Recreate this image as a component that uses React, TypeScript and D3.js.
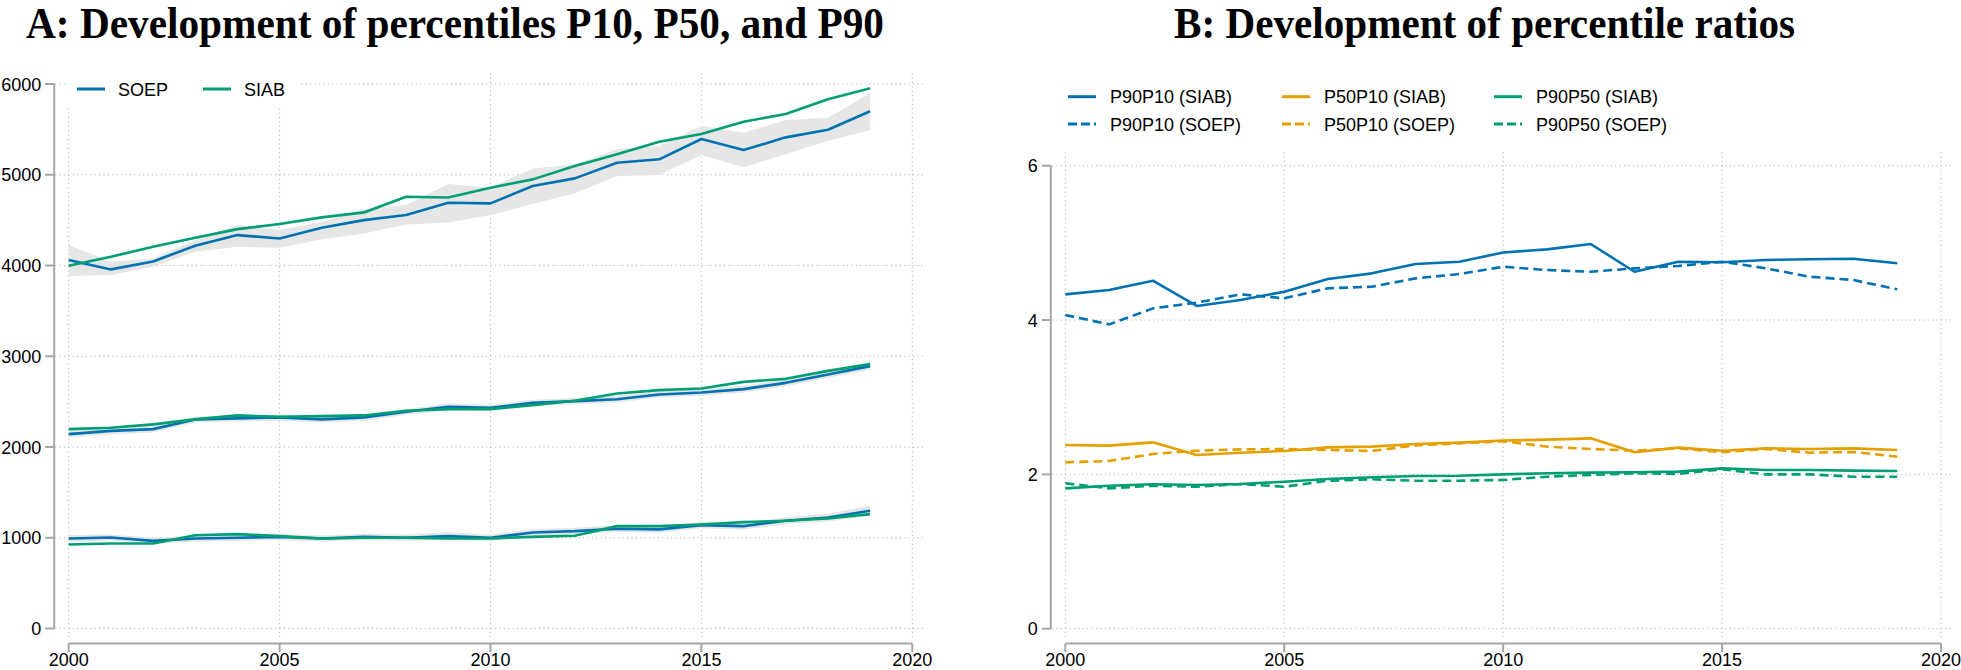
import { useEffect, useRef } from "react";
import * as d3 from "d3";

const years = d3.range(2000, 2020);

// Panel A: percentiles (euro)
const p90Soep = [4060, 3957, 4045, 4218, 4335, 4298, 4416, 4500, 4556, 4691, 4685, 4876, 4960, 5132, 5170, 5394, 5272, 5412, 5496, 5699];
const p90Siab = [3997, 4096, 4206, 4306, 4401, 4457, 4530, 4585, 4757, 4750, 4857, 4949, 5096, 5225, 5364, 5449, 5585, 5669, 5831, 5952];
const p90Hi = [4225, 4041, 4080, 4280, 4446, 4391, 4480, 4622, 4666, 4897, 4857, 5070, 5114, 5280, 5316, 5540, 5463, 5603, 5628, 5897];
const p90Lo = [3883, 3894, 3986, 4151, 4206, 4196, 4288, 4354, 4453, 4475, 4556, 4677, 4795, 4986, 4997, 5217, 5082, 5228, 5371, 5493];

const p50Soep = [2142, 2178, 2197, 2304, 2315, 2326, 2304, 2326, 2388, 2443, 2432, 2487, 2505, 2527, 2579, 2601, 2638, 2707, 2799, 2891];
const p50Siab = [2197, 2212, 2249, 2304, 2348, 2333, 2340, 2348, 2399, 2417, 2417, 2461, 2509, 2590, 2627, 2645, 2718, 2751, 2839, 2913];
const p50Hi = [2180, 2215, 2235, 2335, 2350, 2360, 2340, 2360, 2420, 2480, 2465, 2520, 2540, 2565, 2615, 2640, 2675, 2745, 2840, 2935];
const p50Lo = [2105, 2140, 2160, 2270, 2280, 2290, 2270, 2290, 2355, 2405, 2400, 2455, 2470, 2490, 2545, 2565, 2600, 2670, 2760, 2850];

const p10Soep = [992, 1003, 966, 992, 1000, 1010, 992, 1010, 1000, 1018, 1000, 1058, 1073, 1099, 1092, 1139, 1128, 1187, 1223, 1297];
const p10Siab = [926, 937, 937, 1028, 1040, 1018, 992, 1000, 1000, 992, 992, 1010, 1022, 1128, 1128, 1146, 1172, 1187, 1212, 1260];
const p10Hi = [1030, 1035, 1000, 1025, 1035, 1045, 1025, 1045, 1035, 1060, 1035, 1095, 1110, 1135, 1130, 1175, 1165, 1225, 1265, 1355];
const p10Lo = [955, 970, 935, 960, 965, 975, 960, 975, 965, 980, 965, 1020, 1035, 1065, 1055, 1105, 1090, 1150, 1180, 1245];

// Panel B: percentile ratios
const r9010Siab = [4.333, 4.389, 4.51, 4.182, 4.259, 4.367, 4.532, 4.605, 4.726, 4.756, 4.875, 4.916, 4.985, 4.626, 4.756, 4.748, 4.778, 4.787, 4.795, 4.735];
const r9010Soep = [4.065, 3.944, 4.151, 4.225, 4.333, 4.281, 4.411, 4.432, 4.54, 4.596, 4.691, 4.648, 4.626, 4.67, 4.7, 4.756, 4.67, 4.561, 4.519, 4.398];
const r5010Siab = [2.38, 2.372, 2.415, 2.251, 2.281, 2.303, 2.35, 2.359, 2.393, 2.411, 2.438, 2.45, 2.467, 2.286, 2.346, 2.307, 2.337, 2.329, 2.337, 2.316];
const r5010Soep = [2.156, 2.173, 2.264, 2.307, 2.324, 2.329, 2.316, 2.303, 2.376, 2.402, 2.43, 2.359, 2.329, 2.307, 2.337, 2.286, 2.329, 2.281, 2.29, 2.229];
const r9050Siab = [1.819, 1.853, 1.871, 1.862, 1.875, 1.905, 1.94, 1.962, 1.979, 1.983, 2.0, 2.014, 2.022, 2.027, 2.035, 2.078, 2.057, 2.057, 2.048, 2.044];
const r9050Soep = [1.884, 1.819, 1.853, 1.84, 1.875, 1.84, 1.918, 1.936, 1.918, 1.918, 1.927, 1.97, 1.992, 2.014, 2.005, 2.066, 2.0, 2.0, 1.97, 1.97];

const xTicks = [2000, 2005, 2010, 2015, 2020];
const yTicksA = [0, 1000, 2000, 3000, 4000, 5000, 6000];
const yTicksB = [0, 2, 4, 6];

const BLUE = "#0072B2";
const GREEN = "#009E73";
const ORANGE = "#E69F00";
const BAND = "#e6e6e6";
const AXIS = "#a6a6a6";
const GRID = "#b4b4b4";
const SANS = "'Liberation Sans', Arial, Helvetica, sans-serif";
const SERIF = "'Liberation Serif', 'Times New Roman', serif";

function drawFrame(svg, x, y, yTicks, gridTop, gridLeft, gridRight) {
  const g = svg.append("g");
  // dotted grid
  g.selectAll(".hgrid").data(yTicks).enter().append("line")
    .attr("x1", gridLeft).attr("x2", gridRight)
    .attr("y1", d => y(d)).attr("y2", d => y(d))
    .attr("stroke", GRID).attr("stroke-width", 1).attr("stroke-dasharray", "1.2,3.2");
  g.selectAll(".vgrid").data(xTicks).enter().append("line")
    .attr("x1", d => x(d)).attr("x2", d => x(d))
    .attr("y1", gridTop).attr("y2", 637)
    .attr("stroke", GRID).attr("stroke-width", 1).attr("stroke-dasharray", "1.2,3.2");

  // y axis
  const ax0 = x.range()[0] - 14.5;
  g.append("line").attr("x1", ax0).attr("x2", ax0)
    .attr("y1", y(yTicks[yTicks.length - 1])).attr("y2", y(0))
    .attr("stroke", AXIS).attr("stroke-width", 2);
  g.selectAll(".ytick").data(yTicks).enter().append("line")
    .attr("x1", ax0 - 9).attr("x2", ax0).attr("y1", d => y(d)).attr("y2", d => y(d))
    .attr("stroke", AXIS).attr("stroke-width", 2);
  g.selectAll(".ylab").data(yTicks).enter().append("text")
    .attr("x", ax0 - 13).attr("y", d => y(d) + 6.5)
    .attr("text-anchor", "end").attr("font-family", SANS).attr("font-size", 18)
    .text(d => d);

  // x axis
  const ay = 643.5;
  g.append("line").attr("x1", x(2000)).attr("x2", x(2020)).attr("y1", ay).attr("y2", ay)
    .attr("stroke", AXIS).attr("stroke-width", 2);
  g.selectAll(".xtick").data(xTicks).enter().append("line")
    .attr("x1", d => x(d)).attr("x2", d => x(d)).attr("y1", ay).attr("y2", ay + 8.5)
    .attr("stroke", AXIS).attr("stroke-width", 2);
  g.selectAll(".xlab").data(xTicks).enter().append("text")
    .attr("x", d => x(d)).attr("y", 666)
    .attr("text-anchor", "middle").attr("font-family", SANS).attr("font-size", 18)
    .text(d => d);
}

function drawLine(svg, x, y, vals, color, dashed) {
  const line = d3.line().x((d, i) => x(years[i])).y(d => y(d));
  svg.append("path").datum(vals).attr("d", line)
    .attr("fill", "none").attr("stroke", color).attr("stroke-width", 2.6)
    .attr("stroke-linejoin", "round")
    .attr("stroke-dasharray", dashed ? "9,5" : null);
}

function drawBand(svg, x, y, lo, hi) {
  const area = d3.area().x((d, i) => x(years[i])).y0((d, i) => y(lo[i])).y1(d => y(d));
  svg.append("path").datum(hi).attr("d", area).attr("fill", BAND);
}

export default function App() {
  const ref = useRef(null);

  useEffect(() => {
    const svg = d3.select(ref.current);
    svg.selectAll("*").remove();

    // ---------- Panel A ----------
    const xA = d3.scaleLinear().domain([2000, 2020]).range([68.7, 912.3]);
    const yA = d3.scaleLinear().domain([0, 6000]).range([628.5, 84]);

    svg.append("text").attr("x", 26).attr("y", 38)
      .attr("font-family", SERIF).attr("font-weight", "bold").attr("font-size", 44)
      .attr("textLength", 858).attr("lengthAdjust", "spacingAndGlyphs")
      .text("A: Development of percentiles P10, P50, and P90");

    drawFrame(svg, xA, yA, yTicksA, 73, 55, 924);

    drawBand(svg, xA, yA, p90Lo, p90Hi);
    drawBand(svg, xA, yA, p50Lo, p50Hi);
    drawBand(svg, xA, yA, p10Lo, p10Hi);
    drawLine(svg, xA, yA, p90Soep, BLUE, false);
    drawLine(svg, xA, yA, p90Siab, GREEN, false);
    drawLine(svg, xA, yA, p50Soep, BLUE, false);
    drawLine(svg, xA, yA, p50Siab, GREEN, false);
    drawLine(svg, xA, yA, p10Soep, BLUE, false);
    drawLine(svg, xA, yA, p10Siab, GREEN, false);

    // legend A (white box over the grid)
    const legA = svg.append("g");
    legA.append("rect").attr("x", 66).attr("y", 70).attr("width", 234).attr("height", 38).attr("fill", "#fff");
    const itemsA = [
      { label: "SOEP", color: BLUE, x: 77 },
      { label: "SIAB", color: GREEN, x: 203 },
    ];
    itemsA.forEach(it => {
      legA.append("line").attr("x1", it.x).attr("x2", it.x + 28).attr("y1", 89).attr("y2", 89)
        .attr("stroke", it.color).attr("stroke-width", 3);
      legA.append("text").attr("x", it.x + 41).attr("y", 95.5)
        .attr("font-family", SANS).attr("font-size", 18).text(it.label);
    });

    // ---------- Panel B ----------
    const xB = d3.scaleLinear().domain([2000, 2020]).range([1065.3, 1941]);
    const yB = d3.scaleLinear().domain([0, 6]).range([628.7, 165.7]);

    svg.append("text").attr("x", 1174).attr("y", 38)
      .attr("font-family", SERIF).attr("font-weight", "bold").attr("font-size", 44)
      .attr("textLength", 621).attr("lengthAdjust", "spacingAndGlyphs")
      .text("B: Development of percentile ratios");

    drawFrame(svg, xB, yB, yTicksB, 152, 1052, 1954);

    drawLine(svg, xB, yB, r9010Siab, BLUE, false);
    drawLine(svg, xB, yB, r9010Soep, BLUE, true);
    drawLine(svg, xB, yB, r5010Siab, ORANGE, false);
    drawLine(svg, xB, yB, r5010Soep, ORANGE, true);
    drawLine(svg, xB, yB, r9050Siab, GREEN, false);
    drawLine(svg, xB, yB, r9050Soep, GREEN, true);

    // legend B
    const itemsB = [
      { label: "P90P10 (SIAB)", color: BLUE, dashed: false, x: 1068, row: 0 },
      { label: "P90P10 (SOEP)", color: BLUE, dashed: true, x: 1068, row: 1 },
      { label: "P50P10 (SIAB)", color: ORANGE, dashed: false, x: 1282, row: 0 },
      { label: "P50P10 (SOEP)", color: ORANGE, dashed: true, x: 1282, row: 1 },
      { label: "P90P50 (SIAB)", color: GREEN, dashed: false, x: 1494, row: 0 },
      { label: "P90P50 (SOEP)", color: GREEN, dashed: true, x: 1494, row: 1 },
    ];
    const legB = svg.append("g");
    itemsB.forEach(it => {
      const cy = 96.7 + it.row * 27.3;
      legB.append("line").attr("x1", it.x).attr("x2", it.x + 28).attr("y1", cy).attr("y2", cy)
        .attr("stroke", it.color).attr("stroke-width", 3)
        .attr("stroke-dasharray", it.dashed ? "9,4" : null);
      legB.append("text").attr("x", it.x + 42).attr("y", cy + 6.5)
        .attr("font-family", SANS).attr("font-size", 18).text(it.label);
    });
  }, []);

  return (
    <svg ref={ref} width={1961} height={670}
      style={{ position: "absolute", left: 0, top: 0, background: "#fff" }} />
  );
}
